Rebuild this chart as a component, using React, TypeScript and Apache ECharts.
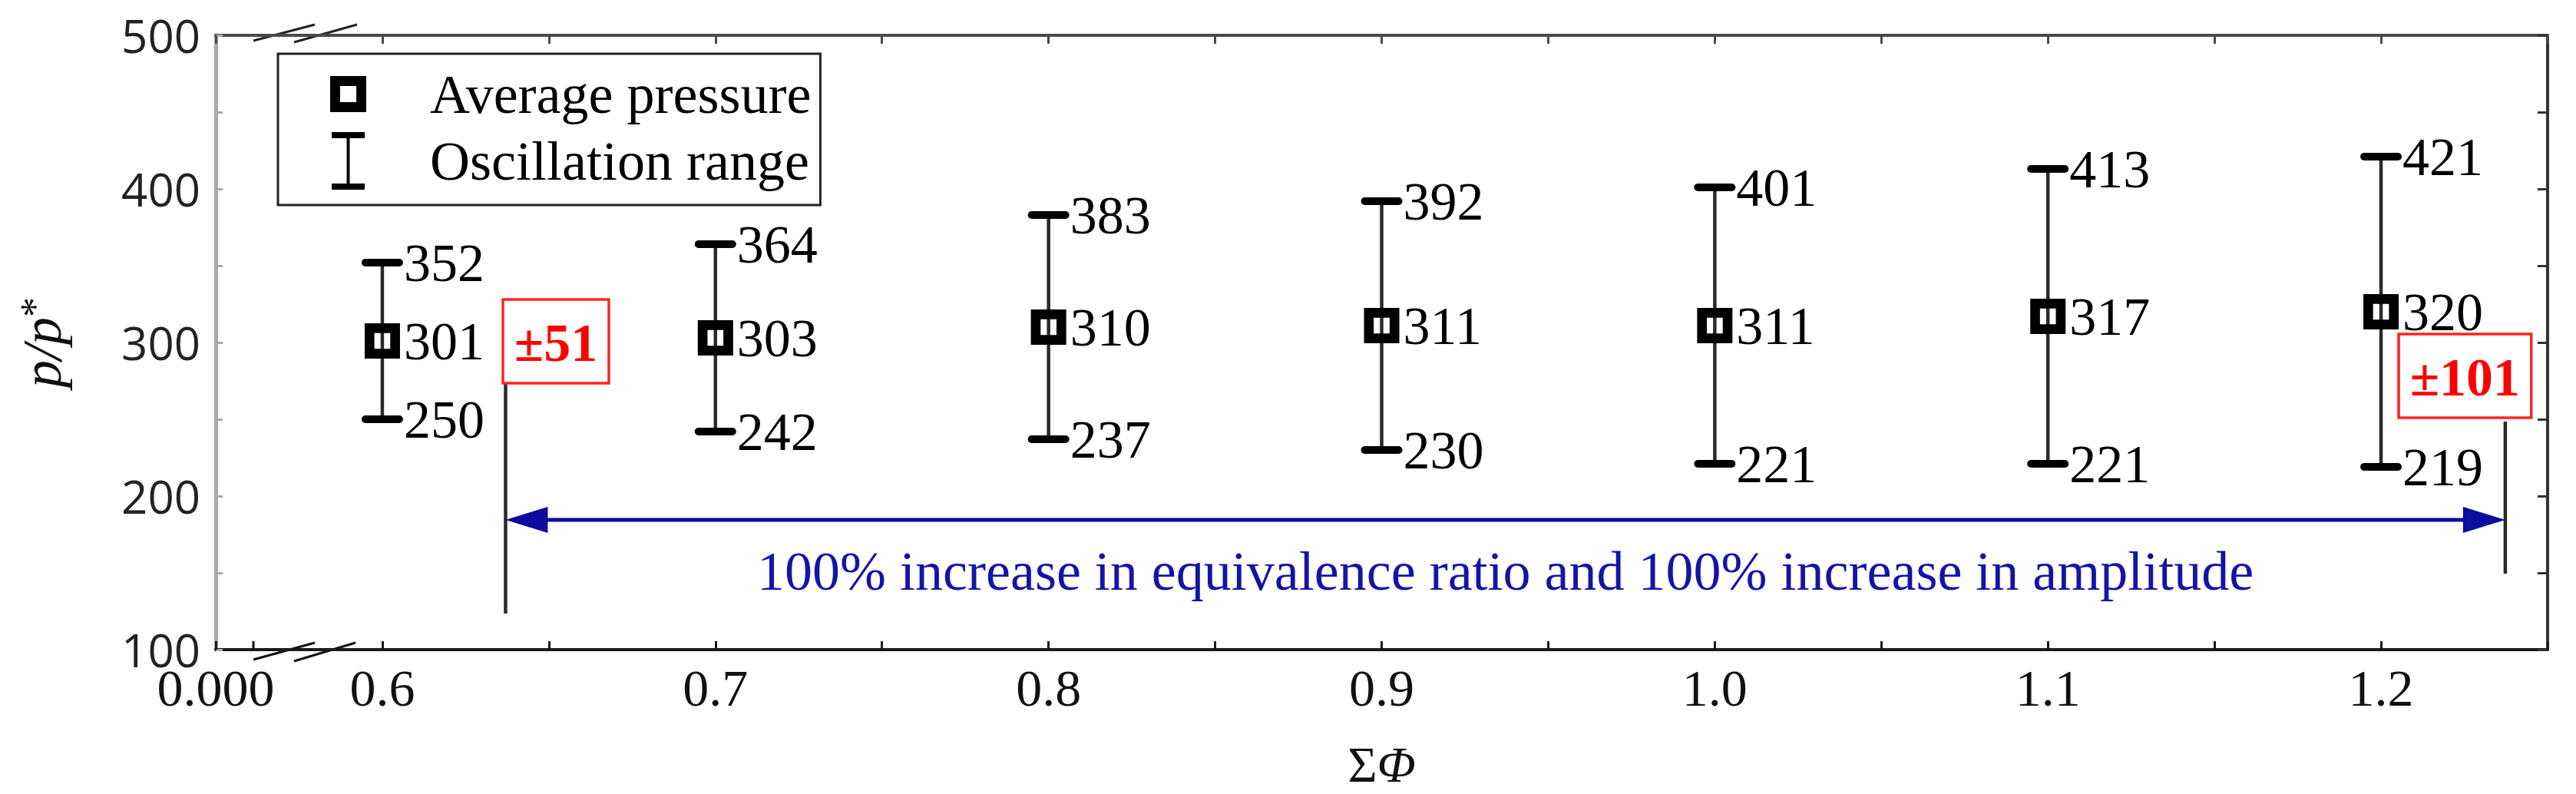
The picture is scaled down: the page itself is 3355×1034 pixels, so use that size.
import React, { useEffect, useRef } from 'react';
import * as echarts from 'echarts';

// ---- data ----
const phi = [0.6, 0.7, 0.8, 0.9, 1.0, 1.1, 1.2];
const avgPressure = [301, 303, 310, 311, 311, 317, 320];
const maxPressure = [352, 364, 383, 392, 401, 413, 421];
const minPressure = [250, 242, 237, 230, 221, 221, 219];

const xTickValues = [0.55, 0.6, 0.7, 0.8, 0.9, 1.0, 1.1, 1.2];
const xTickLabels = ['0.000', '0.6', '0.7', '0.8', '0.9', '1.0', '1.1', '1.2'];
const yTickValues = [100, 200, 300, 400, 500];
const yTickLabels = ['100', '200', '300', '400', '500'];

// annotation (data coordinates)
const bracketX = [0.637, 1.2373];
const bracketLow = [123.5, 149.5];
const bracketHigh = [273.5, 248.5];
const arrowLevel = 184.5;
const amplitudeText = ['±51', '±101'];
const amplitudeBoxX = [[0.6362, 0.668], [1.2053, 1.2451]];
const amplitudeBoxY = [[273.5, 328], [251, 305.5]];
const noteText = '100% increase in equivalence ratio and 100% increase in amplitude';
const noteLevel = 151;

const SERIF = '"Liberation Serif", "Times New Roman", serif';
const SANS = '"Open Sans", "Noto Sans", sans-serif';

const SQUARE_ICON = 'path://M0,0H20V20H0Z M5.5,5.5V14.5H14.5V5.5Z';
const BAR_ICON = 'path://M0,0H43V8H23.5V67H43V75H0V67H19.5V8H0Z';

export default function App() {
  const ref = useRef<HTMLDivElement>(null);
  useEffect(() => {
    document.body.style.margin = '0';
    const chart = echarts.init(ref.current as HTMLDivElement, null, { renderer: 'svg' });

    const xFormatter = (v: number) => {
      const i = xTickValues.findIndex((t) => Math.abs(t - v) < 1e-6);
      return i >= 0 ? xTickLabels[i] : '';
    };
    const yFormatter = (v: number) => {
      const i = yTickValues.findIndex((t) => Math.abs(t - v) < 1e-6);
      return i >= 0 ? yTickLabels[i] : '';
    };

    const errorData = phi.map((p, i) => [p, minPressure[i], maxPressure[i]]);
    const avgData = phi.map((p, i) => [p, avgPressure[i]]);

    const option: any = {
      animation: false,
      backgroundColor: '#ffffff',
      grid: { left: 281, right: 37, top: 46, bottom: 188 },
      legend: {
        left: 362,
        top: 70,
        orient: 'vertical',
        padding: [15, 12, 20, 68],
        itemGap: 12,
        itemWidth: 47,
        itemHeight: 75,
        borderColor: '#222',
        borderWidth: 3,
        backgroundColor: '#fff',
        selectedMode: false,
        textStyle: { fontFamily: SERIF, fontSize: 72, color: '#000', padding: [0, 0, 0, 78], lineHeight: 75 },
        data: [
          { name: 'Average pressure', icon: SQUARE_ICON, itemStyle: { color: '#000', opacity: 1 } },
          { name: 'Oscillation range', icon: BAR_ICON, itemStyle: { color: '#000', opacity: 1 } },
        ],
      },
      xAxis: [
        {
          type: 'value',
          position: 'bottom',
          min: 0.55,
          max: 1.25,
          interval: 0.05,
          axisLine: { onZero: false, lineStyle: { color: '#1a1a1a', width: 4 } },
          axisTick: { inside: true, length: 11, lineStyle: { color: '#1a1a1a', width: 3 } },
          axisLabel: {
            formatter: xFormatter,
            showMinLabel: true,
            showMaxLabel: true,
            margin: 16,
            fontSize: 68,
            fontFamily: SERIF,
            color: '#111',
          },
          splitLine: { show: false },
          name: '{a|Σ}{b|Φ}',
          nameLocation: 'middle',
          nameGap: 116,
          nameTextStyle: {
            fontFamily: SERIF,
            fontSize: 66,
            color: '#111',
            rich: {
              a: { fontFamily: SERIF, fontSize: 66, color: '#111' },
              b: { fontFamily: SERIF, fontSize: 66, fontStyle: 'italic', color: '#111' },
            },
          },
        },
        {
          type: 'value',
          position: 'top',
          min: 0.55,
          max: 1.25,
          interval: 0.05,
          axisLine: { onZero: false, lineStyle: { color: '#4a4a4a', width: 4 } },
          axisTick: { inside: true, length: 11, lineStyle: { color: '#4a4a4a', width: 3 } },
          axisLabel: { show: false },
          splitLine: { show: false },
        },
      ],
      yAxis: [
        {
          type: 'value',
          position: 'left',
          min: 100,
          max: 500,
          interval: 50,
          axisLine: { show: true, onZero: false, lineStyle: { color: '#a9a9a9', width: 5 } },
          axisTick: { show: true, inside: true, length: 9, lineStyle: { color: '#a9a9a9', width: 3 } },
          axisLabel: {
            formatter: yFormatter,
            margin: 20,
            fontSize: 60,
            fontFamily: SANS,
            color: '#222',
            padding: [22, 0, 0, 0],
          },
          splitLine: { show: false },
          name: '{i|p}{i|/}{i|p}{s|*}',
          nameLocation: 'middle',
          nameGap: 190,
          nameRotate: 90,
          nameTextStyle: {
            fontFamily: SERIF,
            fontSize: 70,
            color: '#111',
            rich: {
              i: { fontFamily: SERIF, fontSize: 72, fontStyle: 'italic', color: '#111' },
              s: { fontFamily: SERIF, fontSize: 52, color: '#111', verticalAlign: 'top' },
            },
          },
        },
        {
          type: 'value',
          position: 'right',
          min: 100,
          max: 500,
          interval: 50,
          axisLine: { show: true, onZero: false, lineStyle: { color: '#333', width: 4 } },
          axisTick: { show: true, inside: true, length: 13, lineStyle: { color: '#333', width: 3 } },
          axisLabel: { show: false },
          splitLine: { show: false },
        },
      ],
      series: [
        {
          name: 'Oscillation range',
          type: 'custom',
          xAxisIndex: 0,
          yAxisIndex: 0,
          z: 2,
          itemStyle: { color: '#000' },
          encode: { x: 0, y: [1, 2] },
          data: errorData,
          renderItem: (params: any, api: any) => {
            const x = api.value(0);
            const lo = api.value(1);
            const hi = api.value(2);
            const top = api.coord([x, hi]);
            const bot = api.coord([x, lo]);
            const capHalf = 22;
            const textStyle = (t: string) => ({
              text: t,
              fill: '#000',
              fontSize: 70,
              fontFamily: SERIF,
              align: 'left',
              verticalAlign: 'middle',
            });
            return {
              type: 'group',
              children: [
                {
                  type: 'line',
                  shape: { x1: top[0], y1: top[1], x2: bot[0], y2: bot[1] },
                  style: { stroke: '#2a2a2a', lineWidth: 4.5 },
                },
                {
                  type: 'line',
                  shape: { x1: top[0] - capHalf, y1: top[1], x2: top[0] + capHalf, y2: top[1] },
                  style: { stroke: '#000', lineWidth: 10, lineCap: 'round' },
                },
                {
                  type: 'line',
                  shape: { x1: bot[0] - capHalf, y1: bot[1], x2: bot[0] + capHalf, y2: bot[1] },
                  style: { stroke: '#000', lineWidth: 10, lineCap: 'round' },
                },
                { type: 'text', x: top[0] + 28, y: top[1], style: textStyle(String(hi)) },
                { type: 'text', x: bot[0] + 28, y: bot[1], style: textStyle(String(lo)) },
              ],
            };
          },
        },
        {
          name: 'Average pressure',
          type: 'scatter',
          xAxisIndex: 0,
          yAxisIndex: 0,
          z: 3,
          symbol: SQUARE_ICON,
          symbolSize: 46,
          itemStyle: { color: '#000', opacity: 1 },
          label: {
            show: true,
            position: 'right',
            distance: 5,
            formatter: (p: any) => String(p.value[1]),
            fontFamily: SERIF,
            fontSize: 70,
            color: '#000',
            opacity: 1,
          },
          data: avgData,
        },
        {
          name: 'annotation',
          type: 'custom',
          xAxisIndex: 0,
          yAxisIndex: 0,
          z: 1,
          silent: true,
          data: [[(bracketX[0] + bracketX[1]) / 2, arrowLevel]],
          renderItem: (params: any, api: any) => {
            const children: any[] = [];
            const blue = '#0c0c9e';
            for (let i = 0; i < 2; i++) {
              const a = api.coord([bracketX[i], bracketLow[i]]);
              const b = api.coord([bracketX[i], bracketHigh[i]]);
              children.push({
                type: 'line',
                shape: { x1: a[0], y1: a[1], x2: b[0], y2: b[1] },
                style: { stroke: '#2a2a2a', lineWidth: 4.5 },
              });
              const p1 = api.coord([amplitudeBoxX[i][0], amplitudeBoxY[i][1]]);
              const p2 = api.coord([amplitudeBoxX[i][1], amplitudeBoxY[i][0]]);
              children.push({
                type: 'rect',
                shape: { x: p1[0], y: p1[1], width: p2[0] - p1[0], height: p2[1] - p1[1] },
                style: { stroke: '#ff2424', lineWidth: 3.5, fill: 'rgba(255,255,255,0)' },
              });
              children.push({
                type: 'text',
                x: (p1[0] + p2[0]) / 2,
                y: (p1[1] + p2[1]) / 2 + 2,
                style: {
                  text: amplitudeText[i],
                  fill: '#ff0000',
                  fontSize: 70,
                  fontWeight: 'bold',
                  fontFamily: SERIF,
                  align: 'center',
                  verticalAlign: 'middle',
                },
              });
            }
            const pl = api.coord([bracketX[0], arrowLevel]);
            const pr = api.coord([bracketX[1], arrowLevel]);
            const headLen = 55;
            const headHalf = 17;
            children.push({
              type: 'line',
              shape: { x1: pl[0] + 30, y1: pl[1], x2: pr[0] - 30, y2: pr[1] },
              style: { stroke: blue, lineWidth: 5 },
            });
            children.push({
              type: 'polygon',
              shape: { points: [[pl[0], pl[1]], [pl[0] + headLen, pl[1] - headHalf], [pl[0] + headLen, pl[1] + headHalf]] },
              style: { fill: blue },
            });
            children.push({
              type: 'polygon',
              shape: { points: [[pr[0], pr[1]], [pr[0] - headLen, pr[1] - headHalf], [pr[0] - headLen, pr[1] + headHalf]] },
              style: { fill: blue },
            });
            const pn = api.coord([(bracketX[0] + bracketX[1]) / 2, noteLevel]);
            children.push({
              type: 'text',
              x: pn[0],
              y: pn[1],
              style: {
                text: noteText,
                fill: '#1414a8',
                fontSize: 72,
                fontFamily: SERIF,
                align: 'center',
                verticalAlign: 'middle',
              },
            });
            return { type: 'group', children };
          },
        },
      ],
      graphic: [
        { type: 'line', shape: { x1: 330, y1: 859, x2: 410, y2: 837 }, style: { stroke: '#111', lineWidth: 3 } },
        { type: 'line', shape: { x1: 383, y1: 861, x2: 463, y2: 837 }, style: { stroke: '#111', lineWidth: 3 } },
        { type: 'line', shape: { x1: 330, y1: 846, x2: 330, y2: 835 }, style: { stroke: '#111', lineWidth: 3 } },
        { type: 'line', shape: { x1: 330, y1: 53, x2: 410, y2: 32 }, style: { stroke: '#222', lineWidth: 3 } },
        { type: 'line', shape: { x1: 383, y1: 55, x2: 465, y2: 32 }, style: { stroke: '#222', lineWidth: 3 } },
      ],
    };

    chart.setOption(option);
    return () => {
      chart.dispose();
    };
  }, []);

  return <div ref={ref} style={{ width: 3355, height: 1034 }} />;
}
